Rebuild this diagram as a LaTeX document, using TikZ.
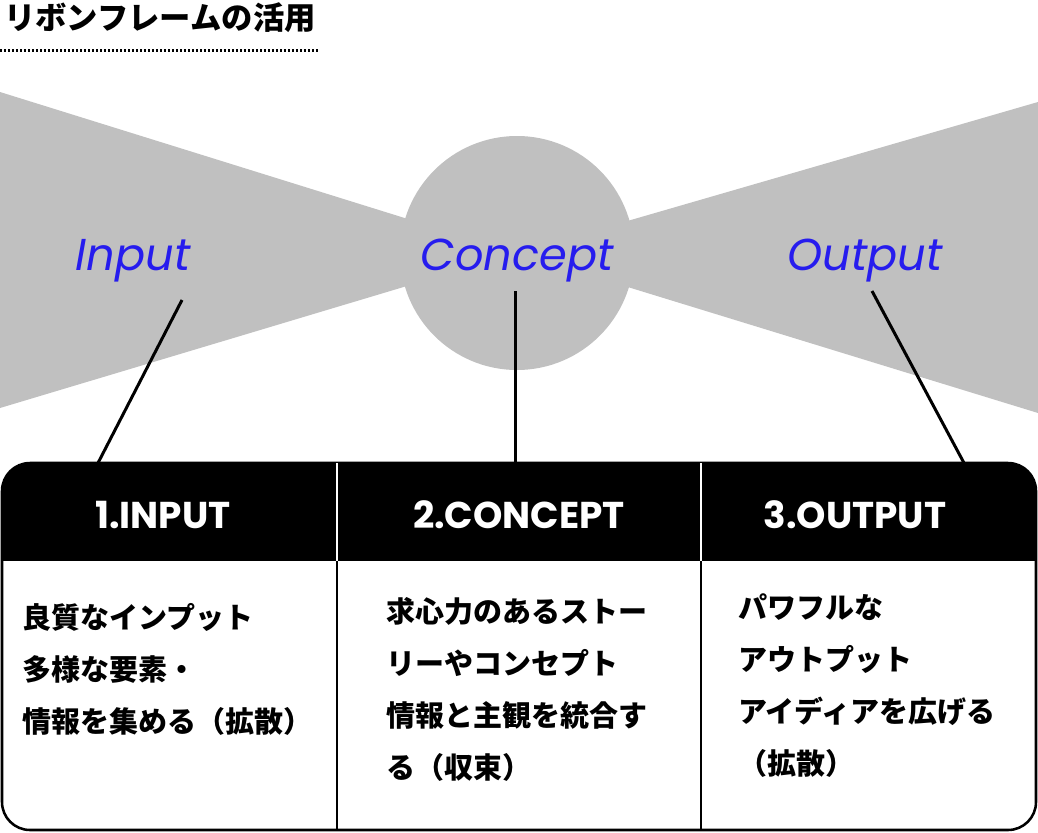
\documentclass[tikz,border=0pt]{standalone}
\usepackage{fontspec}
\setmainfont{Poppins}
\newfontfamily\jpfont{Noto Sans CJK JP}
\usepackage{xcolor}
\usepackage{tikz}
\usetikzlibrary{positioning, calc}
\definecolor{ribbongray}{RGB}{192,192,192}
\definecolor{labelblue}{RGB}{38,28,238}

\begin{document}
\begin{tikzpicture}[
        x=0.75pt, y=-0.75pt,
        stage/.style={font=\fontsize{33.5pt}{40pt}\selectfont\itshape, text=labelblue, inner sep=0pt, anchor=base},
        headcell/.style={font=\fontsize{28pt}{32pt}\selectfont\bfseries, text=white, inner sep=0pt, anchor=base},
        bodytext/.style={font=\jpfont\bfseries\fontsize{21.75pt}{39pt}\selectfont, align=left, inner sep=0pt, anchor=north west},
        link/.style={draw, line width=2.25pt},
        divider/.style={line width=1.5pt}
    ]
        \useasboundingbox (0,0) rectangle (1038,832);

        % --- Title ---
        \node[font=\jpfont\bfseries\fontsize{23.5pt}{27pt}\selectfont, anchor=west, inner sep=0pt] (title) at (4,18) {リボンフレームの活用};
        \draw[line width=2.25pt, dash pattern=on 1.75pt off 1.25pt] (0,50) -- (318,50);

        % --- Ribbon ---
        \fill[ribbongray] (0,92) -- (517,253) -- (0,408) -- cycle;
        \fill[ribbongray] (1038,102) -- (517,253) -- (1038,413) -- cycle;
        \node[circle, fill=ribbongray, minimum size=175.5pt, inner sep=0pt] (hub) at (517,253) {};

        \node[stage] (inlbl) at (133,270) {Input};
        \node[stage] (cplbl) at (517,270) {Concept};
        \node[stage] (outlbl) at (865,270) {Output};

        % --- Table ---
        \begin{scope}
            \clip[rounded corners=21pt] (2,463) rectangle (1036,830);
            \fill[black] (2,463) rectangle (1036,561);
        \end{scope}
        \draw[line width=1.9pt, rounded corners=21pt] (2,463) rectangle (1036,830);
        \draw[white, divider] (337,463) -- (337,561);
        \draw[white, divider] (701,463) -- (701,561);
        \draw[black, divider] (337,561) -- (337,830);
        \draw[black, divider] (701,561) -- (701,830);

        \node[headcell] (h1) at (163,528) {1.INPUT};
        \node[headcell] (h2) at (519,528) {2.CONCEPT};
        \node[headcell] (h3) at (855,528) {3.OUTPUT};

        \node[bodytext] (b1) at (22,603) {良質なインプット\\多様な要素・\\情報を集める（拡散）};
        \node[bodytext] (b2) at (386,597) {求心力のあるストー\\リーやコンセプト\\情報と主観を統合す\\る（収束）};
        \node[bodytext] (b3) at (738,593) {パワフルな\\アウトプット\\アイディアを広げる\\（拡散）};

        % --- Connections ---
        \coordinate (in-top) at (182,300);
        \coordinate (in-foot) at (98,463);
        \coordinate (cp-top) at (515,291);
        \coordinate (cp-foot) at (515,463);
        \coordinate (out-top) at (872,291);
        \coordinate (out-foot) at (964,463);
        \draw[link] (in-top) -- (in-foot);
        \draw[link] (cp-top) -- (cp-foot);
        \draw[link] (out-top) -- (out-foot);

    \end{tikzpicture}
\end{document}
